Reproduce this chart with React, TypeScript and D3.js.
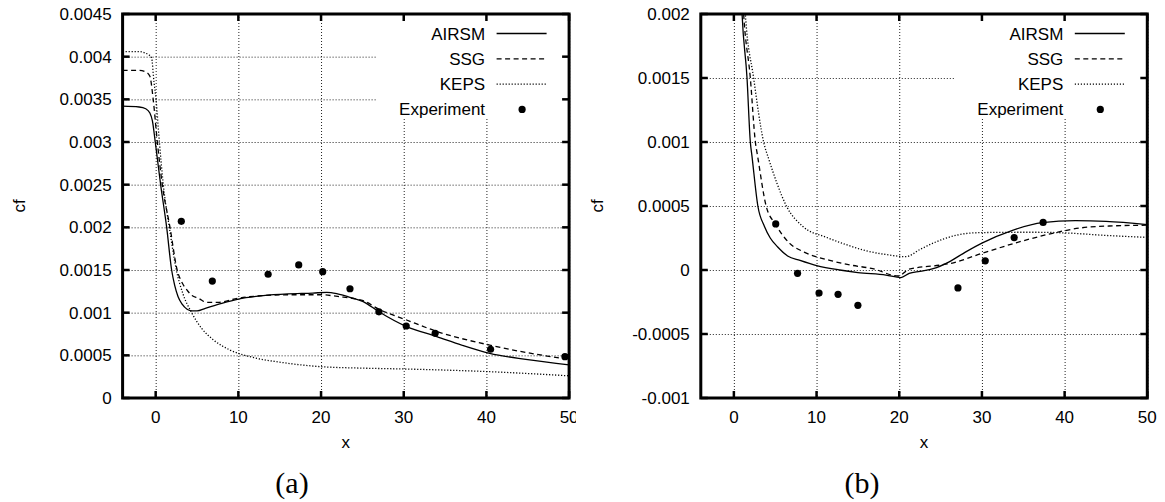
import * as d3 from 'd3';

type Pt = [number, number];

// shared axis values
const xTicks = [0, 10, 20, 30, 40, 50];
const yTicksA = [0, 0.0005, 0.001, 0.0015, 0.002, 0.0025, 0.003, 0.0035, 0.004, 0.0045];
const yTicksB = [-0.001, -0.0005, 0, 0.0005, 0.001, 0.0015, 0.002];
const seriesNames = ['AIRSM', 'SSG', 'KEPS', 'Experiment'];

// panel (a)
const airsmA: Pt[] = [
  [-4, 0.00342], [-2, 0.00341], [-1.2, 0.00339], [-0.7, 0.00334], [-0.4, 0.00325], [-0.05, 0.003],
  [0.6, 0.0025], [1.33, 0.002], [1.93, 0.0015], [2.3, 0.00132], [2.7, 0.00119], [3.2, 0.0011],
  [3.8, 0.00104], [4.4, 0.00102], [5.0, 0.00102], [6, 0.00105], [8, 0.00111], [10, 0.00116],
  [13, 0.0012], [16, 0.00122], [19, 0.00123], [20.7, 0.001238], [22, 0.00122], [23.5, 0.00118],
  [25.1, 0.00113], [27, 0.00101], [30.35, 0.000836], [34, 0.00072], [37, 0.00062], [40.4, 0.000523],
  [45, 0.00045], [50, 0.000387],
];
const ssgA: Pt[] = [
  [-4, 0.00384], [-2, 0.00384], [-1.2, 0.00382], [-0.7, 0.00377], [-0.3, 0.0035], [0.2, 0.003],
  [0.8, 0.0025], [1.73, 0.002], [2.6, 0.0015], [3.2, 0.00135], [3.75, 0.00127], [4.4, 0.0012],
  [5.15, 0.00117], [6.2, 0.00112], [7.5, 0.00112], [10, 0.00117], [13, 0.0012], [16, 0.00121],
  [20, 0.00121], [22, 0.00119], [25.1, 0.00114], [27, 0.00104], [30.35, 0.000914], [34, 0.00078],
  [40.4, 0.00062], [45, 0.00053], [50, 0.000453],
];
const kepsA: Pt[] = [
  [-4, 0.00406], [-2, 0.00406], [-1.2, 0.00404], [-0.8, 0.00402], [-0.5, 0.00399], [-0.2, 0.0037],
  [0.04, 0.0035], [0.45, 0.003], [0.92, 0.0025], [1.65, 0.002], [2.5, 0.0015], [3.3, 0.00122],
  [4.35, 0.001], [5.56, 0.000816], [7, 0.00068], [9, 0.000562], [12, 0.00047], [15, 0.00042],
  [20, 0.000367], [25, 0.00035], [30, 0.00034], [40, 0.00031], [50, 0.00026],
];
const expA: Pt[] = [
  [3.1, 0.00207], [6.85, 0.00137], [13.6, 0.00145], [17.3, 0.00156], [20.2, 0.00148], [23.5, 0.00128],
  [27.0, 0.00101], [30.3, 0.000844], [33.8, 0.000758], [40.5, 0.000571], [49.5, 0.000484],
];

// panel (b)
const airsmB: Pt[] = [
  [0.8, 0.0023], [0.99, 0.002], [1.59, 0.0015], [1.99, 0.001], [2.19, 0.00089], [2.9, 0.0005],
  [3.7, 0.00034], [4.4, 0.00025], [5.3, 0.00018], [6.5, 0.00011], [8, 0.000075], [10, 0.000035],
  [12.8, 0], [15, -0.00002], [18.4, -0.00004], [20.2, -0.000059], [21.2, -0.000026], [22.5, -0.00001],
  [24.1, 0.00001], [26.1, 0.000066], [28, 0.00014], [30, 0.00021], [33.7, 0.00031], [37.3, 0.00037],
  [41.3, 0.000385], [45, 0.00038], [50, 0.000355],
];
const ssgB: Pt[] = [
  [1.0, 0.0022], [1.18, 0.002], [1.99, 0.0015], [2.6, 0.001], [2.87, 0.00089], [3.9, 0.0005],
  [5.0, 0.00036], [6.75, 0.000208], [8.5, 0.00014], [11.6, 0.000075], [14, 0.00004], [16.8, 0.00001],
  [19.9, -0.000047], [21.2, 0.000007], [24.8, 0.000037], [26.1, 0.00005], [30, 0.00013], [34, 0.00021],
  [38.1, 0.00028], [42.1, 0.00033], [46, 0.000345], [50, 0.00035],
];
const kepsB: Pt[] = [
  [1.2, 0.0022], [1.39, 0.002], [2.39, 0.0015], [3.6, 0.001], [4.25, 0.00086], [5.2, 0.00068],
  [6.35, 0.0005], [8.35, 0.00034], [11.2, 0.000255], [13.5, 0.0002], [16, 0.00015], [18.5, 0.00012],
  [20.8, 0.000104], [22.5, 0.00016], [24.1, 0.00021], [26.8, 0.00027], [29, 0.00029], [32, 0.000294],
  [36, 0.000295], [40, 0.00029], [45, 0.00027], [50, 0.000255],
];
const expB: Pt[] = [
  [5.06, 0.00036], [7.7, -0.000026], [10.3, -0.00018], [12.6, -0.00019], [15.0, -0.000276],
  [27.1, -0.00014], [30.4, 0.000072], [33.9, 0.000253], [37.4, 0.000372],
];

const SANS = '"Liberation Sans", Arial, Helvetica, sans-serif';
const fmt = (v: number) => String(+v.toFixed(4));

const Panel = ({ id, left, yDomain, yTicks, airsm, ssg, keps, exp, tag, tagX, clipRight }) => {
  const top = 14;
  const w = 446.5;
  const h = 384;
  const x = d3.scaleLinear().domain([-4, 50]).range([left, left + w]);
  const y = d3.scaleLinear().domain(yDomain).range([top + h, top]);
  const line = d3.line<Pt>().x(d => x(d[0])).y(d => y(d[1])).curve(d3.curveMonotoneX);
  const right = left + w;
  const bottom = top + h;
  const tickLen = 7;

  const styles = [
    { data: airsm, dash: null },
    { data: ssg, dash: '5,3.5' },
    { data: keps, dash: '1.2,1.8' },
  ];

  return (
    <g clipPath={`url(#fig-${id})`}>
      <defs>
        <clipPath id={`fig-${id}`}>
          <rect x={clipRight - 580} y={0} width={580} height={502} />
        </clipPath>
        <clipPath id={`plot-${id}`}>
          <rect x={left} y={top} width={w} height={h} />
        </clipPath>
      </defs>

      {/* grid */}
      <g stroke="#222" strokeWidth={1} strokeDasharray="1,2">
        {xTicks.map(t => (
          <line key={'gx' + t} x1={x(t) + 0.5} x2={x(t) + 0.5} y1={top} y2={bottom} />
        ))}
        {yTicks.map(t => (
          <line key={'gy' + t} x1={left} x2={right} y1={y(t) + 0.5} y2={y(t) + 0.5} />
        ))}
      </g>

      {/* key background */}
      <rect x={right - 193} y={top + 1} width={193} height={102} fill="#fff" />

      {/* curves */}
      <g clipPath={`url(#plot-${id})`} fill="none" stroke="#000" strokeWidth={1.3}>
        {styles.map((s, i) => (
          <path key={i} d={line(s.data) || ''} strokeDasharray={s.dash || undefined} />
        ))}
      </g>
      {exp.map((d, i) => (
        <circle key={'e' + i} cx={x(d[0])} cy={y(d[1])} r={3.6} fill="#000" />
      ))}

      {/* ticks + border */}
      <g stroke="#000" strokeWidth={2.5}>
        {xTicks.map(t => (
          <g key={'tx' + t}>
            <line x1={x(t)} x2={x(t)} y1={bottom} y2={bottom - tickLen} />
            <line x1={x(t)} x2={x(t)} y1={top} y2={top + tickLen} />
          </g>
        ))}
        {yTicks.map(t => (
          <g key={'ty' + t}>
            <line x1={left} x2={left + tickLen} y1={y(t)} y2={y(t)} />
            <line x1={right} x2={right - tickLen} y1={y(t)} y2={y(t)} />
          </g>
        ))}
      </g>
      <rect x={left} y={top} width={w} height={h} fill="none" stroke="#000" strokeWidth={3} />

      {/* tick labels */}
      <g fontFamily={SANS} fontSize={17} fill="#000">
        {yTicks.map(t => (
          <text key={'ly' + t} x={left - 11} y={y(t) + 6} textAnchor="end">{fmt(t)}</text>
        ))}
        {xTicks.map(t => (
          <text key={'lx' + t} x={x(t)} y={bottom + 25} textAnchor="middle">{t}</text>
        ))}
        <text x={(left + right) / 2} y={bottom + 50} textAnchor="middle">x</text>
        <text transform={`translate(${left - 98},${top + 192}) rotate(-90)`} textAnchor="middle">cf</text>

        {/* legend */}
        {seriesNames.map((name, i) => {
          const cy = 33.5 + i * 25.3;
          return (
            <g key={name}>
              <text x={right - 84} y={cy + 6} textAnchor="end">{name}</text>
              {i < 3 ? (
                <line x1={right - 72.5} x2={right - 22.5} y1={cy} y2={cy} stroke="#000" strokeWidth={1.3}
                  strokeDasharray={styles[i].dash || undefined} />
              ) : (
                <circle cx={right - 47} cy={cy} r={3.6} fill="#000" />
              )}
            </g>
          );
        })}
      </g>

      <text x={tagX} y={493} textAnchor="middle" fontFamily='"Liberation Serif", "Times New Roman", serif' fontSize={30}>
        {tag}
      </text>
    </g>
  );
};

export default function App() {
  return (
    <svg width={1165} height={502} viewBox="0 0 1165 502"
      style={{ position: 'absolute', left: 0, top: 0, background: '#fff' }}>
      <rect width={1165} height={502} fill="#fff" />
      <Panel id="a" left={122.6} yDomain={[0, 0.0045]} yTicks={yTicksA}
        airsm={airsmA} ssg={ssgA} keps={kepsA} exp={expA} tag="(a)" tagX={292} clipRight={576} />
      <Panel id="b" left={700.8} yDomain={[-0.001, 0.002]} yTicks={yTicksB}
        airsm={airsmB} ssg={ssgB} keps={kepsB} exp={expB} tag="(b)" tagX={862} clipRight={1158} />
    </svg>
  );
}
